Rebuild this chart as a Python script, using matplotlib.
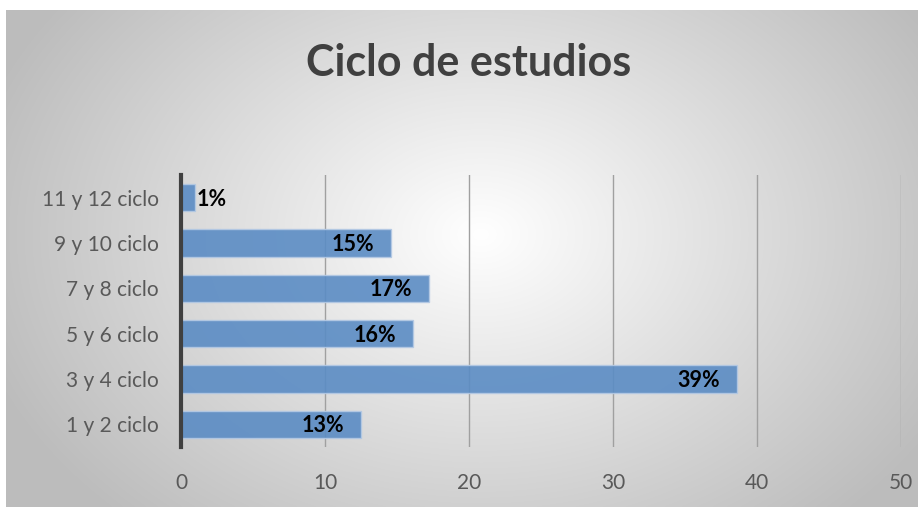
import numpy as np
import matplotlib
matplotlib.use("Agg")
import matplotlib.pyplot as plt

categories = ["1 y 2 ciclo", "3 y 4 ciclo", "5 y 6 ciclo", "7 y 8 ciclo", "9 y 10 ciclo", "11 y 12 ciclo"]
values = [12.5, 38.6, 16.1, 17.2, 14.6, 1.0]
labels = ["13%", "39%", "16%", "17%", "15%", "1%"]
xticks = [0, 10, 20, 30, 40, 50]
title = "Ciclo de estudios"

W, H = 918, 507
fig = plt.figure(figsize=(W/100, H/100), dpi=100)
fig.patch.set_facecolor("white")

# gradient background
bg = fig.add_axes([6/W, 0, 1-6/W, 1-10/H])
bg.set_axis_off()
ny, nx = 300, 600
yy, xx = np.mgrid[0:ny, 0:nx]
cx, cy = nx*0.52, ny*0.45
r = np.sqrt(((xx-cx)/(nx*0.55))**2 + ((yy-cy)/(ny*0.75))**2)
v = 1.0 - 0.25*np.clip(r, 0, 1.2)
v = np.clip(v, 0.74, 1.0)
img = np.dstack([v, v, v])
bg.imshow(img, aspect="auto", extent=[0, 1, 0, 1], interpolation="bilinear")
bg.set_xlim(0, 1); bg.set_ylim(0, 1)

fam = ["Lato", "DejaVu Sans"]
fig.text(469/W, 1-63/H, title, ha="center", va="center", fontsize=31, fontweight="bold",
         color="#404040", family=fam)

ax = fig.add_axes([181/W, 1-447/H, (901-181)/W, (447-175)/H])
ax.patch.set_alpha(0)
y = np.arange(len(categories))
ax.set_ylim(-0.5, len(categories)-0.5)
ax.set_xlim(0, 50)
ax.barh(y, values, height=0.6, color="#5b8cc4", alpha=0.9, edgecolor="#b4c9e4",
        linewidth=1, zorder=3)
ax.set_xticks(xticks)
ax.xaxis.grid(True, color="#a0a0a0", linewidth=1, zorder=1)
ax.set_axisbelow(True)
for s in ["top", "right", "bottom"]:
    ax.spines[s].set_visible(False)
ax.spines["left"].set_color("#404040")
ax.spines["left"].set_linewidth(3)
ax.spines["left"].set_zorder(5)
ax.set_yticks(y)
ax.set_yticklabels(categories, family=fam, fontsize=15, color="#595959")
ax.set_xticklabels([str(t) for t in xticks], family=fam, fontsize=15, color="#595959")
ax.tick_params(axis="both", length=0)
ax.tick_params(axis="y", pad=16)
ax.tick_params(axis="x", pad=19)

for yi, val, lab in zip(y, values, labels):
    if val < 3:
        ax.annotate(lab, (val, yi), xytext=(1, -1), textcoords="offset points",
                    ha="left", va="center", fontsize=15.5, fontweight="bold",
                    color="black", family=fam, zorder=6)
    else:
        ax.annotate(lab, (val, yi), xytext=(-12, -1), textcoords="offset points",
                    ha="right", va="center", fontsize=15.5, fontweight="bold",
                    color="black", family=fam, zorder=6)

fig.savefig("out.png", dpi=100)
